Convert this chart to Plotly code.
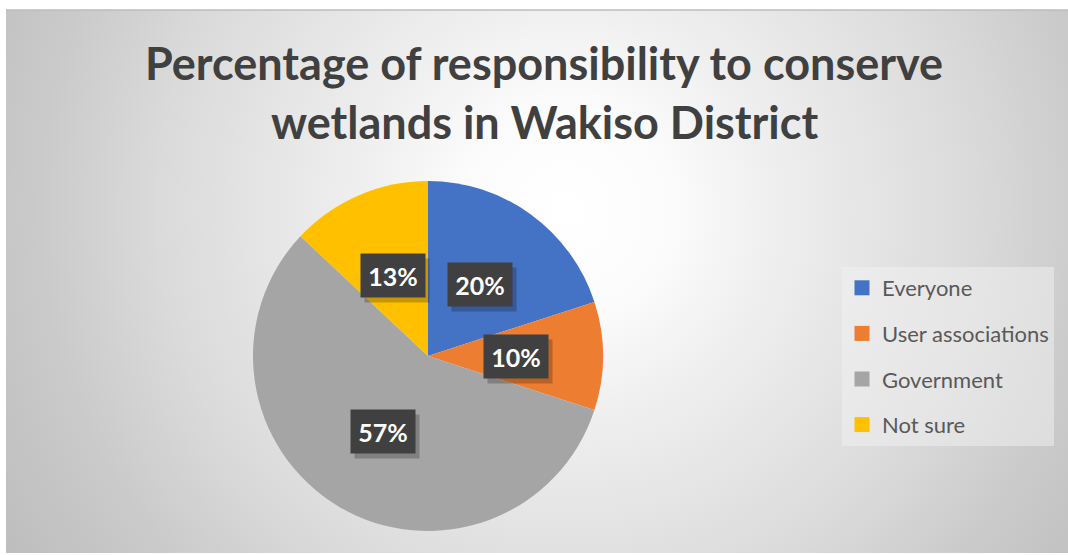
import base64
import math
import plotly.graph_objects as go

# ---------------- data ----------------
categories = ["Everyone", "User associations", "Government", "Not sure"]
percent = [20, 10, 57, 13]
colors = ["#4472C4", "#ED7D31", "#A5A5A5", "#FFC000"]
title_lines = ["Percentage of responsibility to conserve", "wetlands in Wakiso District"]

# ---------------- layout geometry (px) ----------------
W, H = 1068, 555
cx, cy, R = 428, 356, 175
FONT = "Lato, 'Open Sans', sans-serif"

# radial gradient background (as an SVG image)
bw, bh = 1062, 543
svg = f"""<svg xmlns='http://www.w3.org/2000/svg' width='{bw}' height='{bh}' viewBox='0 0 {bw} {bh}' preserveAspectRatio='none'>
<defs><radialGradient id='g' gradientUnits='userSpaceOnUse' cx='560' cy='200' r='660'>
<stop offset='0' stop-color='#ffffff'/>
<stop offset='0.15' stop-color='#fcfcfc'/>
<stop offset='0.3' stop-color='#f0f0f0'/>
<stop offset='0.62' stop-color='#dadada'/>
<stop offset='0.8' stop-color='#cacaca'/>
<stop offset='1' stop-color='#bdbdbd'/>
</radialGradient></defs>
<rect x='0' y='0' width='{bw}' height='{bh}' fill='url(#g)'/>
</svg>"""
bg_src = "data:image/svg+xml;base64," + base64.b64encode(svg.encode()).decode()

fig = go.Figure()
fig.add_trace(go.Pie(
    labels=categories, values=percent,
    marker=dict(colors=colors, line=dict(width=0)),
    sort=False, direction="clockwise", rotation=0,
    textinfo="none", hoverinfo="label+percent", showlegend=False,
    domain=dict(x=[(cx - R) / W, (cx + R) / W], y=[1 - (cy + R) / H, 1 - (cy - R) / H]),
))

# legend entries (one group each so spacing can be controlled)
for name, col in zip(categories, colors):
    fig.add_trace(go.Scatter(
        x=[None], y=[None], mode="markers", name=name, legendgroup=name,
        marker=dict(symbol="square", size=15, color=col),
        hoverinfo="skip",
    ))

annotations = []
# title
annotations.append(dict(text=title_lines[0], x=544 / W, y=1 - 63 / H, xref="paper", yref="paper",
                        showarrow=False, xanchor="center", yanchor="middle",
                        font=dict(family=FONT, size=45, color="#404040", weight="bold")))
annotations.append(dict(text=title_lines[1], x=544 / W, y=1 - 122 / H, xref="paper", yref="paper",
                        showarrow=False, xanchor="center", yanchor="middle",
                        font=dict(family=FONT, size=45, color="#404040", weight="bold")))

# data labels
total = sum(percent)
cum = 0
for v in percent:
    mid = (cum + v / 2) / total * 2 * math.pi
    cum += v
    px_ = cx + 0.503 * R * math.sin(mid)
    py_ = cy - 0.503 * R * math.cos(mid)
    txt = f"{round(100 * v / total)}%"
    common = dict(x=px_ / W, y=1 - py_ / H, xref="paper", yref="paper", showarrow=False,
                  xanchor="center", yanchor="middle", width=56, height=35, borderpad=4)
    annotations.append(dict(text=txt, xshift=4, yshift=-5, bgcolor="rgba(0,0,0,0.22)",
                            font=dict(family=FONT, size=25, color="rgba(0,0,0,0)", weight="bold"), **common))
    annotations.append(dict(text=txt, bgcolor="#404040",
                            font=dict(family=FONT, size=25, color="#ffffff", weight="bold"), **common))

fig.update_layout(
    width=W, height=H,
    margin=dict(l=0, r=0, t=0, b=0),
    paper_bgcolor="#ffffff", plot_bgcolor="rgba(0,0,0,0)",
    xaxis=dict(visible=False), yaxis=dict(visible=False),
    images=[dict(source=bg_src, xref="paper", yref="paper", x=6 / W, y=1 - 10 / H,
                 sizex=bw / W, sizey=bh / H, xanchor="left", yanchor="top",
                 sizing="stretch", layer="below")],
    shapes=[dict(type="line", xref="paper", yref="paper", x0=6 / W, x1=1, y0=1 - 10 / H, y1=1 - 10 / H,
                 line=dict(color="#bcbcbc", width=1.5))],
    annotations=annotations,
    legend=dict(x=842 / W, y=1 - 267 / H, xanchor="left", yanchor="top",
                bgcolor="rgba(242,242,242,0.5)", borderwidth=0,
                font=dict(family=FONT, size=22, color="#595959"),
                tracegroupgap=14, itemwidth=30),
    showlegend=True,
)

fig.write_html("out.html")
